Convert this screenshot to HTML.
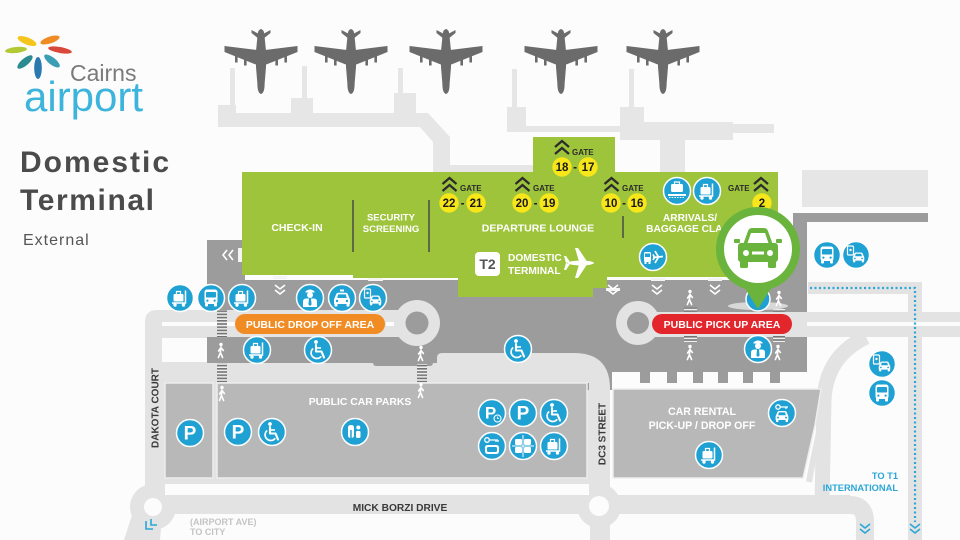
<!DOCTYPE html>
<html><head><meta charset="utf-8">
<style>
html,body{margin:0;padding:0;background:#fcfcfc;}
svg{display:block;}
text{font-family:"Liberation Sans",Arial,sans-serif;}
</style></head><body>
<svg width="960" height="540" viewBox="0 0 960 540" xmlns="http://www.w3.org/2000/svg">
<defs>
<pattern id="st" width="6" height="3.2" patternUnits="userSpaceOnUse"><rect width="6" height="3.2" fill="#efefef"/><rect width="6" height="1.6" fill="#737373"/></pattern>
<g id="plane" fill="#6b6b6b">
 <path d="M-3.4 6 Q-3 0.5 0 0 Q3 0.5 3.4 6 L5 22 L5 38 L3.6 55 Q3.6 64 0 65 Q-3.6 64 -3.6 55 L-5 38 L-5 22 Z"/>
 <path d="M-2 5 L-9.5 1 L-9.5 4 L-2 10Z M2 5 L9.5 1 L9.5 4 L2 10Z"/>
 <path d="M-4 21 L-36.5 17 L-36.5 23 L-4 36Z M4 21 L36.5 17 L36.5 23 L4 36Z"/>
 <rect x="-26" y="27" width="2.6" height="6.5"/><rect x="-17" y="30" width="2.6" height="6.5"/><rect x="23.4" y="27" width="2.6" height="6.5"/><rect x="14.4" y="30" width="2.6" height="6.5"/>
</g>
<g id="bc"><circle r="13.5" fill="#1fa2d3" stroke="#ffffff" stroke-width="1.5"/></g>
<g id="car"><path d="M-8 0.5 L-5.8 -4.8 Q-5.2 -6.2 -3.5 -6.2 L3.5 -6.2 Q5.2 -6.2 5.8 -4.8 L8 0.5 L8 5 L-8 5Z" fill="#fff"/><path d="M-4.8 -1 L-3.8 -4.6 L3.8 -4.6 L4.8 -1Z" fill="#1fa2d3"/><circle cx="-5" cy="2" r="1.2" fill="#1fa2d3"/><circle cx="5" cy="2" r="1.2" fill="#1fa2d3"/><rect x="-7.5" y="4.5" width="3" height="3" rx="0.8" fill="#fff"/><rect x="4.5" y="4.5" width="3" height="3" rx="0.8" fill="#fff"/></g>
<g id="trol"><use href="#bc"/><g fill="#fff"><rect x="-6.5" y="-4" width="10" height="7.5" rx="1.3"/><circle cx="-5" cy="7" r="1.7"/><circle cx="3.5" cy="7" r="1.7"/></g><path d="M-3.5 -4 V-6.5 H0.5 V-4" fill="none" stroke="#fff" stroke-width="1.2"/><path d="M5.5 -7.5 V5 H-8" fill="none" stroke="#fff" stroke-width="1.5"/></g>
<g id="bus"><use href="#bc"/><rect x="-6.5" y="-8.5" width="13" height="14.5" rx="2.5" fill="#fff"/><rect x="-5" y="-6" width="10" height="5.5" rx="0.8" fill="#1fa2d3"/><circle cx="-3.6" cy="2.6" r="1.1" fill="#1fa2d3"/><circle cx="3.6" cy="2.6" r="1.1" fill="#1fa2d3"/><rect x="-6" y="5" width="3" height="3.5" rx="1" fill="#fff"/><rect x="3" y="5" width="3" height="3.5" rx="1" fill="#fff"/></g>
<g id="taxi"><use href="#bc"/><rect x="-2" y="-8.5" width="4" height="2" fill="#fff"/><use href="#car" y="1"/></g>
<g id="carph"><use href="#bc"/><rect x="-8.5" y="-9" width="6" height="9" rx="1" fill="#1fa2d3" stroke="#fff" stroke-width="1.2"/><circle cx="-5.5" cy="-5" r="1.2" fill="#fff"/><use href="#car" transform="translate(2.5,2) scale(0.72)"/></g>
<g id="porter"><use href="#bc"/><path d="M-4.5 -6.5 Q0 -10.5 4.5 -6.5 L4.5 -5.5 L-4.5 -5.5Z" fill="#fff"/><circle cy="-3" r="3" fill="#fff"/><path d="M-7 9 V3.5 Q-7 0.5 -3.5 0.5 H3.5 Q7 0.5 7 3.5 V9Z" fill="#fff"/><path d="M-1 0.5 H1 L1.6 6.5 L0 8 L-1.6 6.5Z" fill="#1fa2d3"/></g>
<g id="wc"><use href="#bc"/><circle cx="-2" cy="-8" r="1.9" fill="#fff"/><path d="M-2 -5 V1.5 H3.5 L6 7.5" stroke="#fff" stroke-width="2.1" fill="none" stroke-linejoin="round" stroke-linecap="round"/><path d="M-2 -2 H3" stroke="#fff" stroke-width="1.6"/><path d="M-4.8 -1.5 A5.6 5.6 0 1 0 3.2 6.2" stroke="#fff" stroke-width="1.7" fill="none"/></g>
<g id="park"><use href="#bc"/><text x="0" y="6.5" text-anchor="middle" font-size="19" font-weight="bold" fill="#fff">P</text></g>
<g id="parkc"><use href="#bc"/><text x="-1.5" y="5.5" text-anchor="middle" font-size="17" font-weight="bold" fill="#fff">P</text><circle cx="5.5" cy="5.5" r="3.5" fill="#1fa2d3" stroke="#fff" stroke-width="1.1"/><path d="M5.5 3.5 V5.5 H7" stroke="#fff" stroke-width="0.8" fill="none"/></g>
<g id="toil"><use href="#bc"/><rect x="-7" y="-7" width="6" height="13" rx="2.5" fill="#fff"/><rect x="1" y="-1" width="4.5" height="7" rx="1.2" fill="#fff"/><circle cx="3.3" cy="-4.5" r="2" fill="#fff"/><rect x="-4.8" y="-2" width="1.5" height="8" fill="#1fa2d3"/></g>
<g id="lock"><use href="#bc"/><rect x="-8" y="-7" width="7" height="6" rx="1.2" fill="#fff"/><rect x="1" y="-7" width="7" height="6" rx="1.2" fill="#fff"/><rect x="-8" y="1" width="7" height="6" rx="1.2" fill="#fff"/><rect x="1" y="1" width="7" height="6" rx="1.2" fill="#fff"/><path d="M0 -11 V11 M-11 0 H11" stroke="#fff" stroke-width="1"/></g>
<g id="keylug"><use href="#bc"/><circle cx="-5" cy="-6" r="2.3" fill="none" stroke="#fff" stroke-width="1.3"/><path d="M-2.7 -6 H6 M4 -6 V-4 M6 -6 V-4" stroke="#fff" stroke-width="1.3" fill="none"/><rect x="-7" y="-1" width="14" height="9" rx="2.5" fill="#fff"/><rect x="-5" y="1" width="10" height="5" rx="1.2" fill="#1fa2d3"/></g>
<g id="carou"><use href="#bc"/><rect x="-6" y="-7" width="12" height="8" rx="1.5" fill="#fff"/><path d="M-2.5 -7 V-9 H2.5 V-7" stroke="#fff" stroke-width="1.2" fill="none"/><rect x="-9" y="3" width="18" height="2" fill="#fff"/><path d="M-8 6.5 H8" stroke="#fff" stroke-width="1" stroke-dasharray="1.5 1.2"/></g>
<g id="busplane"><use href="#bc"/><rect x="-9" y="-5" width="7" height="10" rx="1.5" fill="#fff"/><rect x="-8" y="-3.5" width="5" height="3.5" fill="#1fa2d3"/><rect x="-8.5" y="4.5" width="2" height="2.5" fill="#fff"/><rect x="-4.5" y="4.5" width="2" height="2.5" fill="#fff"/><path d="M0 0.5 L10 -0.5 M5.5 0 L2 -6 M5.5 0 L2 6 M1.5 0.3 L0 -2.5 M1.5 0.3 L0 3" stroke="#fff" stroke-width="1.7" fill="none"/></g>
<g id="keycar"><use href="#bc"/><circle cx="-4" cy="-6" r="2.2" fill="none" stroke="#fff" stroke-width="1.3"/><path d="M-1.8 -6 H6 M4 -6 V-4" stroke="#fff" stroke-width="1.3"/><use href="#car" transform="translate(0,3) scale(0.8)"/></g>
<g id="ped"><circle cy="-6.5" r="1.7" fill="#fff"/><path d="M0 -4 L-0.6 1.5 L-2.6 6.5 M-0.6 1.5 L1.6 6.5 M0 -3.5 L-2.4 0 M0 -3.5 L2.4 -0.5" stroke="#fff" stroke-width="1.6" stroke-linecap="round" fill="none"/></g>
<g id="chev"><path d="M-7 -1 L0 -7 L7 -1 M-7 6 L0 0 L7 6" stroke="#2b2b2b" stroke-width="2.2" fill="none"/></g>
<g id="dchev"><path d="M-5 -5 L0 -1 L5 -5 M-5 0 L0 4 L5 0" stroke="#fff" stroke-width="1.6" fill="none"/></g>
<g id="bchev"><path d="M-5 -5 L0 -1 L5 -5 M-5 0 L0 4 L5 0" stroke="#2aa7d6" stroke-width="1.6" fill="none"/></g>
</defs>

<rect width="960" height="540" fill="#fcfcfc"/>

<!-- Logo -->
<g>
 <ellipse cx="27" cy="41" rx="10" ry="3.6" fill="#f5c51b" transform="rotate(22 27 41)"/>
 <ellipse cx="50" cy="40" rx="10" ry="3.4" fill="#f08a24" transform="rotate(-18 50 40)"/>
 <ellipse cx="16" cy="50" rx="11" ry="3" fill="#b3c835" transform="rotate(-6 16 50)"/>
 <ellipse cx="60" cy="50" rx="12" ry="3" fill="#d9483a" transform="rotate(10 60 50)"/>
 <ellipse cx="25" cy="62" rx="9.5" ry="3.6" fill="#2b8b92" transform="rotate(-40 25 62)"/>
 <ellipse cx="38" cy="68" rx="3.8" ry="11" fill="#2a7ab0"/>
 <ellipse cx="52" cy="61" rx="9.5" ry="3.6" fill="#3a9eb5" transform="rotate(38 52 61)"/>
 <text x="70" y="81" font-size="23" fill="#7a7a7a">Cairns</text>
 <text x="24" y="111" font-size="42" fill="#3cb4dc">airport</text>
</g>
<text x="20" y="172" font-size="30" font-weight="bold" fill="#4b4b4b" letter-spacing="2">Domestic</text>
<text x="20" y="210" font-size="30" font-weight="bold" fill="#4b4b4b" letter-spacing="1.6">Terminal</text>
<text x="23" y="245" font-size="16" fill="#555" letter-spacing="1">External</text>

<!-- Jet bridges -->
<g fill="#e6e6e6">
 <rect x="230" y="68" width="5" height="40"/>
 <rect x="302" y="66" width="5" height="34"/>
 <rect x="398" y="68" width="5" height="27"/>
 <rect x="512" y="69" width="5" height="40"/>
 <rect x="629" y="69" width="5" height="40"/>
 <polygon points="218,105 236,105 236,113 291,113 291,98 313,98 313,113 394,113 394,93 416,93 416,113 428,113 450,137 450,165 533,165 533,172 433,172 433,142 420,127 218,127"/>
 <polygon points="507,107 526,107 526,126 620,126 620,107 644,107 644,122 733,122 733,124 774,124 774,133 733,133 733,140 685,140 685,172 660,172 660,140 620,140 620,132 507,132"/>
 <rect x="802" y="170" width="126" height="37"/>
</g>
<use href="#plane" x="261" y="29"/>
<use href="#plane" x="351" y="29"/>
<use href="#plane" x="446" y="29"/>
<use href="#plane" x="561" y="29"/>
<use href="#plane" x="663" y="29"/>

<!-- Road network light gray -->
<g fill="#e3e3e3">
 <path d="M145 322 Q145 310 157 310 L610 310 L610 495 L145 495 Z"/>
 <rect x="145" y="495" width="705" height="19"/>
 <circle cx="153" cy="507" r="23"/>
 <polygon points="133,512 162,516 160,540 124,540"/>
 <circle cx="599" cy="506" r="22"/>
 <rect x="590" y="506" width="20" height="34"/>
 <rect x="808" y="282" width="114" height="12"/>
 <rect x="908" y="282" width="14" height="258"/>
</g>
<path d="M866 337 C848 346 826 362 824 400 L822 505" stroke="#e3e3e3" stroke-width="15" fill="none"/>
<path d="M823 387 C827 410 816 440 809 482" stroke="#e3e3e3" stroke-width="6" fill="none"/>
<path d="M820 505 L850 505 Q865 505 865 522 L865 540" stroke="#e3e3e3" stroke-width="18" fill="none"/>
<rect x="165" y="484" width="424" height="11" fill="#fcfcfc"/>
<circle cx="153" cy="507" r="9" fill="#fcfcfc"/>
<circle cx="599" cy="506" r="10" fill="#fcfcfc"/>

<!-- Dark gray forecourt -->
<path d="M207 240 L245 240 L245 280 L778 280 L778 262 L793 262 L793 213 L928 213 L928 222 L807 222 L807 372 L612 372 L612 390 L437 390 L437 363 L207 363 Z" fill="#9c9c9c"/>
<rect x="373" y="360" width="60" height="6" rx="3" fill="#9c9c9c"/>
<g fill="#9c9c9c">
 <rect x="640" y="371" width="10" height="12"/><rect x="667" y="371" width="10" height="12"/><rect x="693" y="371" width="10" height="12"/><rect x="718" y="371" width="10" height="12"/><rect x="743" y="371" width="10" height="12"/><rect x="770" y="371" width="10" height="12"/>
</g>

<!-- Light lanes over forecourt -->
<g fill="#e3e3e3">
 <rect x="207" y="310" width="200" height="27"/>
 <circle cx="417" cy="323" r="23"/>
 <rect x="640" y="312" width="320" height="25"/>
 <circle cx="638" cy="323" r="22"/>
 <path d="M437 383 L437 358 Q437 353 442 353 L574 353 Q610 353 610 389 L610 400 L589 400 L589 383 Z"/>
</g>
<circle cx="417" cy="323" r="11.5" fill="#9c9c9c"/>
<circle cx="638" cy="323" r="11" fill="#9c9c9c"/>
<rect x="162" y="322" width="75" height="4" fill="#fcfcfc"/>
<rect x="386" y="322" width="8" height="4" fill="#fcfcfc"/>
<rect x="807" y="322" width="153" height="4" fill="#fcfcfc"/>
<rect x="162" y="338" width="45" height="24" fill="#fcfcfc"/>

<!-- Car parks -->
<g fill="#b8b8b8" stroke="#ededed" stroke-width="1.5">
 <rect x="165" y="383" width="48" height="95"/>
 <rect x="217" y="383" width="370" height="95"/>
 <polygon points="613,389 821,389 815,425 803,478 613,478"/>
</g>

<!-- Crossings -->
<rect x="217" y="310" width="10" height="28" fill="url(#st)"/>
<rect x="217" y="363" width="10" height="19" fill="url(#st)"/>
<rect x="417" y="364" width="10" height="18" fill="url(#st)"/>
<rect x="684" y="307" width="13" height="6" fill="url(#st)"/>
<rect x="684" y="336" width="13" height="6" fill="url(#st)"/>
<rect x="773" y="307" width="12" height="6" fill="url(#st)"/>
<rect x="773" y="336" width="12" height="6" fill="url(#st)"/>

<!-- Blue dotted path -->
<path d="M810 288 H915 V522" stroke="#2aa7d6" stroke-width="2.2" stroke-dasharray="2 2.5" fill="none"/>
<use href="#bchev" x="915" y="529"/>
<use href="#bchev" x="865" y="529"/>
<path d="M146 521 V529 H153 M151 519 V525 H157" stroke="#2aa7d6" stroke-width="1.6" fill="none"/>

<!-- Green terminal -->
<g fill="#9ec43c">
 <polygon points="242,172 778,172 778,277 607,277 607,288 593,288 593,297 458,297 458,278 353,278 353,275 242,275"/>
 <rect x="533" y="137" width="82" height="36"/>
</g>
<g fill="#f4f4f4">
 <rect x="273" y="276" width="14" height="3"/><rect x="368" y="278" width="15" height="3"/>
 <rect x="606" y="288" width="14" height="3"/><rect x="651" y="278" width="14" height="3"/><rect x="708" y="278" width="14" height="3"/>
</g>
<g stroke="#4a4a4a" stroke-width="1.5">
 <line x1="353" y1="200" x2="353" y2="252"/>
 <line x1="429" y1="200" x2="429" y2="252"/>
 <line x1="623" y1="216" x2="623" y2="238"/>
</g>
<g font-weight="bold" fill="#fff" text-anchor="middle">
 <text x="297" y="231" font-size="10.5">CHECK-IN</text>
 <text x="391" y="220.5" font-size="9.5">SECURITY</text>
 <text x="391" y="232" font-size="9.5">SCREENING</text>
 <text x="538" y="231.5" font-size="10.5">DEPARTURE LOUNGE</text>
 <text x="690" y="221" font-size="10.2">ARRIVALS/</text>
 <text x="690" y="232" font-size="10.2">BAGGAGE CLAIM</text>
</g>
<rect x="475" y="252" width="25" height="24" rx="4" fill="#fff"/>
<text x="487.5" y="269" font-size="14" font-weight="bold" fill="#555" text-anchor="middle">T2</text>
<text x="508" y="261" font-size="10.2" font-weight="bold" fill="#fff">DOMESTIC</text>
<text x="508" y="274" font-size="10.2" font-weight="bold" fill="#fff">TERMINAL</text>
<g fill="#fff">
 <ellipse cx="581" cy="263" rx="13" ry="2.4"/>
 <polygon points="587,261.5 578,248 575,248 579,261.5"/>
 <polygon points="587,264.5 578,278 575,278 579,264.5"/>
 <polygon points="570,262 566,256 564,256 566,263"/>
 <polygon points="570,264 566,270 564,270 566,263"/>
</g>

<!-- Gates -->
<g font-weight="bold">
 <use href="#chev" x="449.5" y="185"/><text x="460" y="191" font-size="8" fill="#2b2b2b">GATE</text>
 <use href="#chev" x="522.5" y="185"/><text x="533" y="191" font-size="8" fill="#2b2b2b">GATE</text>
 <use href="#chev" x="611.5" y="185"/><text x="622" y="191" font-size="8" fill="#2b2b2b">GATE</text>
 <use href="#chev" x="761" y="185"/><text x="728" y="191" font-size="8" fill="#2b2b2b">GATE</text>
 <use href="#chev" x="562" y="148"/><text x="572" y="155" font-size="8" fill="#2b2b2b">GATE</text>
 <g fill="#f6e61a">
  <circle cx="449" cy="203" r="9.7"/><circle cx="476" cy="203" r="9.7"/>
  <circle cx="522" cy="203" r="9.7"/><circle cx="549" cy="203" r="9.7"/>
  <circle cx="611" cy="203" r="9.7"/><circle cx="637" cy="203" r="9.7"/>
  <circle cx="762" cy="203" r="9.7"/>
  <circle cx="562" cy="167" r="9.7"/><circle cx="588" cy="167" r="9.7"/>
 </g>
 <g font-size="11.5" fill="#1a1a1a" text-anchor="middle">
  <text x="449" y="207">22</text><text x="462.5" y="207">-</text><text x="476" y="207">21</text>
  <text x="522" y="207">20</text><text x="535.5" y="207">-</text><text x="549" y="207">19</text>
  <text x="611" y="207">10</text><text x="624" y="207">-</text><text x="637" y="207">16</text>
  <text x="762" y="207">2</text>
  <text x="562" y="171">18</text><text x="575" y="171">-</text><text x="588" y="171">17</text>
 </g>
</g>

<!-- White chevrons -->
<use href="#dchev" x="280" y="290"/>
<use href="#dchev" x="613" y="290"/>
<use href="#dchev" x="657" y="290"/>
<use href="#dchev" x="715" y="290"/>
<path d="M227 250 L223 255 L227 260 M233 250 L229 255 L233 260" stroke="#fff" stroke-width="1.6" fill="none"/>
<rect x="238" y="248" width="4" height="14" fill="#f4f4f4"/>

<!-- Pills -->
<rect x="235" y="314" width="150" height="20" rx="10" fill="#f08c23"/>
<text x="310" y="328" font-size="10.5" font-weight="bold" fill="#fff" text-anchor="middle">PUBLIC DROP OFF AREA</text>
<rect x="652" y="314" width="140" height="20" rx="10" fill="#e2262c"/>
<text x="722" y="328" font-size="10.5" font-weight="bold" fill="#fff" text-anchor="middle">PUBLIC PICK UP AREA</text>

<!-- Icons -->
<use href="#trol" x="180" y="298"/>
<use href="#bus" x="211" y="298"/>
<use href="#trol" x="242" y="298"/>
<use href="#porter" x="310" y="298"/>
<use href="#taxi" x="342" y="298"/>
<use href="#carph" x="373" y="298"/>
<use href="#trol" x="257" y="350"/>
<use href="#wc" x="318" y="350"/>
<use href="#wc" x="518" y="349"/>
<use href="#busplane" x="653" y="257"/>
<use href="#carou" x="677" y="191"/>
<use href="#trol" x="707" y="191"/>
<use href="#bus" x="827" y="255"/>
<use href="#carph" x="856" y="255"/>
<use href="#carph" x="882" y="364"/>
<use href="#bus" x="882" y="393"/>
<use href="#porter" x="758" y="349"/>
<use href="#park" x="190" y="433"/>
<use href="#park" x="238" y="432"/>
<use href="#wc" x="272" y="432"/>
<use href="#toil" x="355" y="432"/>
<use href="#parkc" x="492" y="413"/>
<use href="#park" x="523" y="413"/>
<use href="#wc" x="554" y="413"/>
<use href="#keylug" x="492" y="446"/>
<use href="#lock" x="523" y="446"/>
<use href="#trol" x="554" y="446"/>
<use href="#keycar" x="782" y="413"/>
<use href="#trol" x="709" y="455"/>

<!-- Pedestrians -->
<use href="#ped" x="221" y="351"/>
<use href="#ped" x="421" y="354"/>
<use href="#ped" x="222" y="394"/>
<use href="#ped" x="421" y="391"/>
<use href="#ped" x="690" y="298"/>
<use href="#ped" x="690" y="353"/>
<use href="#ped" x="778" y="353"/>

<!-- Labels -->
<g font-weight="bold" text-anchor="middle">
 <text x="360" y="405" font-size="10.4" fill="#fff">PUBLIC CAR PARKS</text>
 <text x="702" y="415" font-size="10.6" fill="#fff">CAR RENTAL</text>
 <text x="702" y="429" font-size="10.6" fill="#fff">PICK-UP / DROP OFF</text>
 <text x="400" y="511" font-size="10.2" fill="#3a3a3a">MICK BORZI DRIVE</text>
 <text transform="translate(158.5,408) rotate(-90)" font-size="10" fill="#3a3a3a">DAKOTA COURT</text>
 <text transform="translate(605.5,434) rotate(-90)" font-size="10" fill="#3a3a3a">DC3 STREET</text>
</g>
<g font-weight="bold" font-size="9" fill="#c4c4c4">
 <text x="190" y="525">(AIRPORT AVE)</text>
 <text x="190" y="535">TO CITY</text>
</g>
<g font-weight="bold" font-size="9.3" fill="#2aa7d6" text-anchor="end">
 <text x="898" y="479">TO T1</text>
 <text x="898" y="491">INTERNATIONAL</text>
</g>

<!-- Pin -->
<ellipse cx="758" cy="306" rx="30" ry="4" fill="#d8d8d8"/>
<circle cx="758" cy="299" r="12" fill="#1fa2d3" stroke="#fff" stroke-width="1.5"/>
<use href="#ped" x="779" y="299"/>
<polygon points="741,282 775,282 758,309" fill="#6ab43e"/>
<circle cx="758" cy="249" r="42" fill="#6ab43e"/>
<circle cx="758" cy="249" r="34" fill="#fff"/>
<g fill="#6ab43e">
 <path d="M743 245 L748 231 Q749 228 752 228 L764 228 Q767 228 768 231 L773 245 Z"/>
 <rect x="738" y="243" width="40" height="19" rx="3"/>
 <rect x="734" y="239" width="6" height="4" rx="1"/><rect x="776" y="239" width="6" height="4" rx="1"/>
 <rect x="740" y="259" width="8" height="9" rx="1.5"/><rect x="768" y="259" width="8" height="9" rx="1.5"/>
</g>
<polygon points="751,233 765,233 768.5,243 747.5,243" fill="#fff"/>
<circle cx="746" cy="253" r="3" fill="#fff"/>
<circle cx="770" cy="253" r="3" fill="#fff"/>
<rect x="752" y="251.5" width="12" height="3" fill="#fff"/>
</svg>
</body></html>
